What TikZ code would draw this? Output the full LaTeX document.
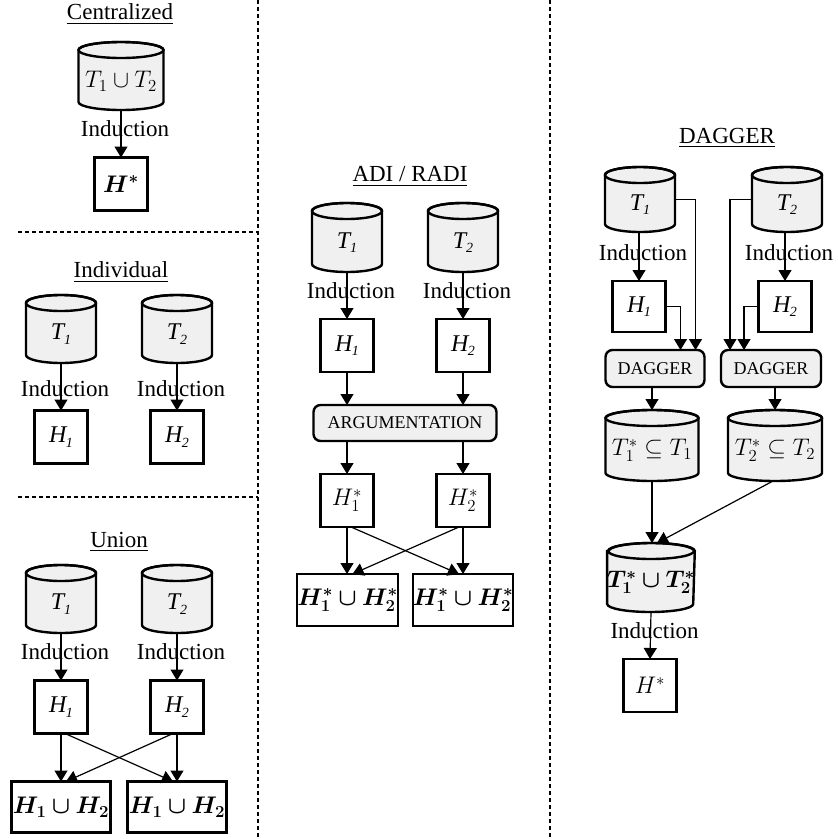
\RequirePackage{fix-cm}
\documentclass[tikz,border=0pt]{standalone}
\usepackage[no-math]{fontspec}
\setmainfont{Liberation Serif}
\usepackage{amsmath}
\usepackage{bm}
\usetikzlibrary{arrows.meta,calc}
\pgfdeclarelayer{bg}
\pgfsetlayers{bg,main}
\definecolor{cylgray}{HTML}{F0F0F0}
\newcommand\ct[1]{\raisebox{-5pt}[\height][\depth]{#1}}
\newcommand\isub[2]{\textit{#1}\kern-1.5pt\raisebox{-4.5pt}{\fontsize{14}{16}\selectfont\textit{#2}}}
\newcommand\iT[1]{\isub{T}{#1}}
\newcommand\iH[1]{\isub{H}{#1}}
\tikzset{
  base/.style={font=\fontsize{23}{27}\selectfont, inner sep=0pt, outer sep=0pt},
  cyl/.style={base, rectangle, font=\fontsize{24}{28}\selectfont},
  cylone/.style={cyl, minimum width=70pt, minimum height=68pt},
  cylline/.style={draw=black, fill=cylgray, line width=2.4pt},
  hbox/.style={base, draw, line width=2.4pt, minimum width=53pt, minimum height=53pt,
    font=\fontsize{24}{28}\selectfont},
  ubox/.style={hbox, minimum width=99pt, minimum height=51pt},
  rbox/.style={base, draw, line width=2.4pt, fill=cylgray, rounded corners=7pt,
    font=\fontsize{18}{20}\selectfont},
  arr/.style={-{Triangle[length=11pt,width=13pt]}, line width=1.2pt},
  lbl/.style={base, xshift=4pt},
  div/.style={line width=1.1pt, dash pattern=on 4pt off 3pt},
}
\newcommand\drawcyl[2]{%
  \begin{pgfonlayer}{bg}
    \draw[cylline] ([yshift=-8pt]#1.north west) -- ([yshift=8pt]#1.south west)
      arc[start angle=180,end angle=360,x radius=#2pt,y radius=8pt]
      -- ([yshift=-8pt]#1.north east)
      arc[start angle=0,end angle=180,x radius=#2pt,y radius=8pt] -- cycle;
    \draw[line width=2.4pt] ([yshift=-8pt]#1.north) ellipse[x radius=#2pt,y radius=8pt];
  \end{pgfonlayer}}
\begin{document}
\begin{tikzpicture}[x=1pt,y=-1pt]
\useasboundingbox (0,0) rectangle (838,839);

% dividers
\draw[div] (258,0) -- (258,839);
\draw[div] (550,0) -- (550,839);
\draw[div] (18,232) -- (258,232);
\draw[div] (18,497) -- (258,497);

% ---------------- Centralized
\node[base] (tC) at (120,14) {\underline{Centralized}};
\node[cyl, minimum width=85pt, minimum height=68pt] (c) at (121,76) {\ct{$T_1\cup T_2$}};
\drawcyl{c}{42.5}
\node[hbox] (hC) at (121,184) {$\bm{H^*}$};
\draw[arr] (c.south) -- node[lbl, pos=0.4] (iC) {Induction} (hC.north);

% ---------------- Individual
\node[base] (tI) at (121,272) {\underline{Individual}};
\node[cylone] (i1) at (61,329) {\ct{\iT1}};
\drawcyl{i1}{35}
\node[cylone] (i2) at (177,329) {\ct{\iT2}};
\drawcyl{i2}{35}
\node[hbox] (ih1) at (61,437) {\iH1};
\node[hbox] (ih2) at (177,437) {\iH2};
\draw[arr] (i1.south) -- node[lbl, pos=0.55] (iI1) {Induction} (ih1.north);
\draw[arr] (i2.south) -- node[lbl, pos=0.55] (iI2) {Induction} (ih2.north);

% ---------------- Union
\node[base] (tU) at (119,542) {\underline{Union}};
\node[cylone] (u1) at (61,599) {\ct{\iT1}};
\drawcyl{u1}{35}
\node[cylone] (u2) at (177,599) {\ct{\iT2}};
\drawcyl{u2}{35}
\node[hbox] (uh1) at (61,707) {\iH1};
\node[hbox] (uh2) at (177,707) {\iH2};
\draw[arr] (u1.south) -- node[lbl, pos=0.4] (iU1) {Induction} (uh1.north);
\draw[arr] (u2.south) -- node[lbl, pos=0.4] (iU2) {Induction} (uh2.north);
\node[ubox] (ub1) at (61,807) {$\bm{H_1\cup H_2}$};
\node[ubox] (ub2) at (177,807) {$\bm{H_1\cup H_2}$};
\draw[arr] (uh1.south) -- (ub1.north);
\draw[arr] (uh2.south) -- (ub2.north);
\draw[arr] ([xshift=4pt]uh1.south) -- ([xshift=-4pt]ub2.north);
\draw[arr] ([xshift=-4pt]uh2.south) -- ([xshift=5pt]ub1.north);

% ---------------- ADI / RADI
\node[base] (tA) at (410,177) {\underline{ADI / RADI}};
\node[cylone, minimum height=69pt] (a1) at (347,237.5) {\ct{\iT1}};
\drawcyl{a1}{35}
\node[cylone, minimum height=69pt] (a2) at (463,237.5) {\ct{\iT2}};
\drawcyl{a2}{35}
\node[hbox] (ah1) at (347,345.5) {\iH1};
\node[hbox] (ah2) at (463,345.5) {\iH2};
\draw[arr] (a1.south) -- node[lbl, pos=0.4] (iA1) {Induction} (ah1.north);
\draw[arr] (a2.south) -- node[lbl, pos=0.4] (iA2) {Induction} (ah2.north);
\node[rbox, minimum width=183pt, minimum height=36pt] (arg) at (405,423) {ARGUMENTATION};
\draw[arr] (ah1.south) -- (ah1.south |- arg.north);
\draw[arr] (ah2.south) -- (ah2.south |- arg.north);
\node[hbox] (as1) at (347,500.5) {$H_1^*$};
\node[hbox] (as2) at (463,500.5) {$H_2^*$};
\draw[arr] (as1.north |- arg.south) -- (as1.north);
\draw[arr] (as2.north |- arg.south) -- (as2.north);
\node[ubox, minimum height=52pt] (ab1) at (347.5,600) {$\bm{H_1^*\cup H_2^*}$};
\node[ubox, minimum height=52pt] (ab2) at (463,600) {$\bm{H_1^*\cup H_2^*}$};
\draw[arr] (as1.south) -- (as1.south |- ab1.north);
\draw[arr] (as2.south) -- (as2.south |- ab2.north);
\draw[arr] ([xshift=4pt]as1.south) -- ([xshift=-4pt]ab2.north);
\draw[arr] ([xshift=-4pt]as2.south) -- ([xshift=5pt]ab1.north);

% ---------------- DAGGER
\node[base] (tD) at (727,138) {\underline{DAGGER}};
\node[cylone, minimum height=65pt] (d1) at (640,199.5) {\ct{\iT1}};
\drawcyl{d1}{35}
\node[cylone, minimum height=65pt] (d2) at (787,199.5) {\ct{\iT2}};
\drawcyl{d2}{35}
\node[hbox, minimum height=51pt] (dh1) at (639,306.5) {\iH1};
\node[hbox, minimum height=51pt] (dh2) at (785,306.5) {\iH2};
\draw[arr] (dh1.north |- d1.south) -- node[lbl, pos=0.42] (iD1) {Induction} (dh1.north);
\draw[arr] (dh2.north |- d2.south) -- node[lbl, pos=0.42] (iD2) {Induction} (dh2.north);
\node[rbox, minimum width=99pt, minimum height=37pt] (g1) at (655,368.5) {DAGGER};
\node[rbox, minimum width=100pt, minimum height=37pt] (g2) at (771,368.5) {DAGGER};
\draw[arr] (d1.east) -| ([xshift=-9pt]g1.north east);
\draw[arr] (dh1.east) -| ([xshift=-24pt]g1.north east);
\draw[arr] (d2.west) -| ([xshift=9pt]g2.north west);
\draw[arr] (dh2.west) -| ([xshift=23pt]g2.north west);
\node[cyl, minimum width=93pt, minimum height=71pt] (s1) at (652,445.5) {\ct{$T_1^*\subseteq T_1$}};
\drawcyl{s1}{46.5}
\node[cyl, minimum width=94pt, minimum height=71pt] (s2) at (775,445.5) {\ct{$T_2^*\subseteq T_2$}};
\drawcyl{s2}{47}
\draw[arr] (s1.north |- g1.south) -- (s1.north);
\draw[arr] (s2.north |- g2.south) -- (s2.north);
\node[cyl, minimum width=86pt, minimum height=69pt] (sa) at (651,577.5) {\ct{$\bm{T_1^*\cup T_2^*}$}};
\drawcyl{sa}{43}
\draw[arr] (s1.south) -- (s1.south |- sa.north);
\draw[arr] ([xshift=-2pt]s2.south) -- ([xshift=6pt]sa.north);
\node[hbox] (dH) at (650,685.5) {$H^*$};
\draw[arr] (sa.south) -- node[lbl, pos=0.39] (iD3) {Induction} (dH.north);
\end{tikzpicture}
\end{document}
